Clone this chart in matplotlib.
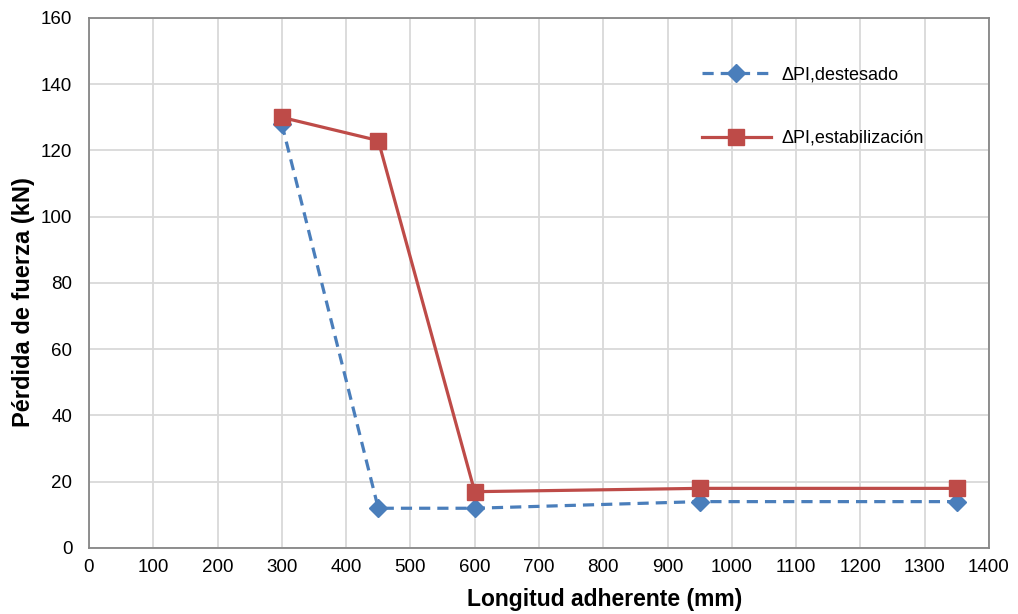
import matplotlib
matplotlib.use("Agg")
import matplotlib.pyplot as plt
from matplotlib.ticker import MultipleLocator

plt.rcParams['font.family'] = ['Liberation Sans', 'DejaVu Sans']

x_vals = [300, 450, 600, 950, 1350]
destesado = [128, 12, 12, 14, 14]
estabilizacion = [130, 123, 17, 18, 18]
label_dest = "ΔPI,destesado"
label_estab = "ΔPI,estabilización"
xlabel = "Longitud adherente (mm)"
ylabel = "Pérdida de fuerza (kN)"

fig = plt.figure(figsize=(10.18, 6.14), dpi=100)
ax = fig.add_axes([0.0874, 0.1075, 0.8841, 0.8632])

ax.plot(x_vals, destesado, color='#4A7EBB', linestyle=(0, (3.5, 2.2)), linewidth=2.3,
        marker='D', markersize=9, label=label_dest, zorder=3)
ax.plot(x_vals, estabilizacion, color='#BE4B48', linestyle='-', linewidth=2.3,
        marker='s', markersize=11, label=label_estab, zorder=4)

ax.set_xlim(0, 1400)
ax.set_ylim(0, 160)
ax.xaxis.set_major_locator(MultipleLocator(100))
ax.yaxis.set_major_locator(MultipleLocator(20))
ax.grid(True, color='#D9D9D9', linewidth=1.3)
ax.set_axisbelow(True)
for s in ax.spines.values():
    s.set_color('#868686')
    s.set_linewidth(1.3)
ax.tick_params(axis='x', length=0, labelsize=13.5, pad=8)
ax.tick_params(axis='y', length=0, labelsize=13.5, pad=12)
ax.set_xlabel(xlabel, fontsize=16.5, fontweight='bold')
ax.set_ylabel(ylabel, fontsize=17, fontweight='bold')
ax.xaxis.set_label_coords(0.573, -0.075)
ax.yaxis.set_label_coords(-0.060, 0.464)

leg = ax.legend(loc='upper left', bbox_to_anchor=(0.663, 0.94), frameon=False,
                fontsize=13, handlelength=3.8, labelspacing=2.6, handletextpad=0.6)

fig.savefig("out.png", dpi=100)
